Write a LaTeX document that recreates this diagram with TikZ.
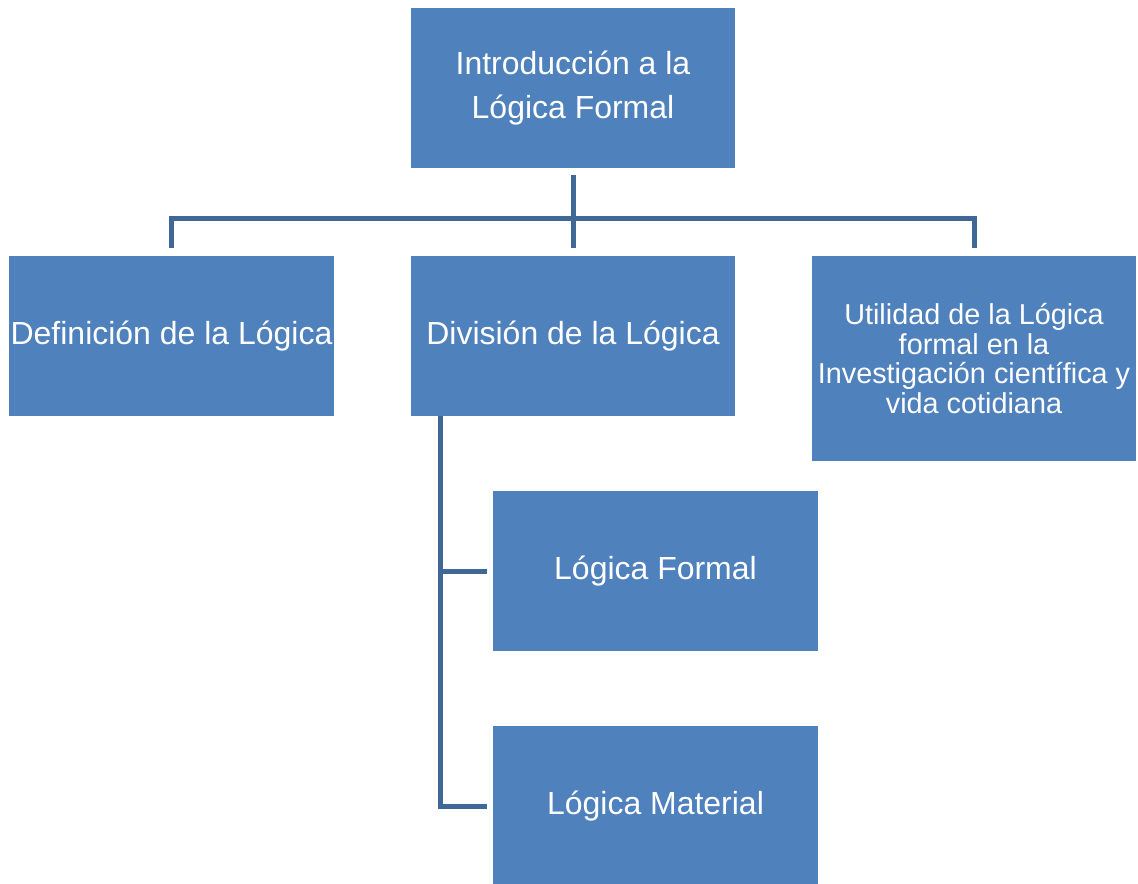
\documentclass[tikz,border=0pt]{standalone}
\usepackage{fontspec}
\setmainfont{Liberation Sans}
\definecolor{boxblue}{HTML}{4F81BD}
\definecolor{lineblue}{HTML}{3F6897}
\begin{document}
\begin{tikzpicture}[
            x=0.02cm,y=-0.02cm,
            box/.style={rectangle,fill=boxblue,text=white,minimum width=6.5cm,minimum height=3.2cm,align=center,inner sep=0pt,font=\fontsize{18.2}{25}\selectfont},
            conn/.style={draw=lineblue,line width=0.1cm}
        ]
            \useasboundingbox (0,0) rectangle (1138,883);
            \node[box] (intro) at (573,88) {Introducción a la\\Lógica Formal};
            \node[box] (def) at (171.5,336) {Definición de la Lógica};
            \node[box] (div) at (573,336) {División de la Lógica};
            \node[box,minimum height=4.1cm,font=\fontsize{16.4}{17}\selectfont] (util) at (974,358.5) {Utilidad de la Lógica\\formal en la\\Investigación científica y\\vida cotidiana};
            \node[box] (formal) at (655.5,571) {Lógica Formal};
            \node[box] (material) at (655.5,806) {Lógica Material};

            \coordinate (bus) at (573,218);
            \draw[conn] ([yshift=-0.14cm]intro.south) -- (bus);
            \draw[conn] ([yshift=0.16cm]def.north) |- (bus) -| ([yshift=0.16cm]util.north);
            \draw[conn] ([yshift=0.16cm]div.north) -- (bus);
            \draw[conn] ([xshift=0.6cm,yshift=-0.12cm]div.south west) |- ([xshift=-0.12cm]material.west);
            \draw[conn] ([xshift=-0.12cm]formal.west) -| ([xshift=0.6cm]div.south west);
        \end{tikzpicture}
\end{document}
